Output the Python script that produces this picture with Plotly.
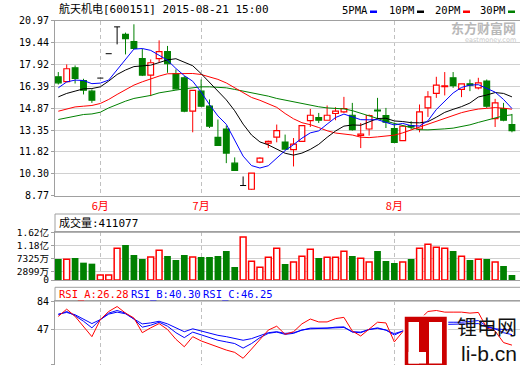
import plotly.graph_objects as go

W, H = 520, 365

# ---------------- data ----------------
month_pos = [5, 17, 40]
month_text = ["6月", "7月", "8月"]
price_ticks = [8.77, 10.30, 11.82, 13.35, 14.87, 16.39, 17.92, 19.44, 20.97]
vol_ticks = [0, 2899, 7325, 11800, 16200]          # unit: 万
vol_tick_text = ["0", "2899万", "7325万", "1.18亿", "1.62亿"]
rsi_ticks = [0, 47, 84]

open_p = [17.06, 16.72, 17.69, 16.80, 16.06, 16.97, 18.67, 20.54, 20.02, 19.51,
          18.32, 17.18, 18.32, 18.81, 17.27, 16.99, 14.66, 16.06, 15.01, 12.84,
          13.42, 11.04, 9.48, 9.22, 11.11, 12.44, 12.86, 12.51, 11.98, 12.56,
          14.01, 14.22, 14.03, 14.50, 14.61, 14.38, 12.98, 13.42, 14.73, 14.36,
          13.45, 12.61, 13.66, 13.42, 14.89, 15.90, 16.38, 16.99, 16.18, 16.57,
          16.29, 16.76, 14.15, 14.85, 13.73]
high_p = [17.39, 17.92, 17.85, 16.92, 16.18, 16.97, 18.67, 20.54, 20.14, 20.72,
          19.02, 18.27, 19.60, 19.21, 17.57, 17.11, 16.11, 16.87, 15.48, 14.08,
          13.66, 11.44, 10.11, 10.34, 11.44, 12.61, 13.73, 13.03, 12.79, 13.66,
          14.82, 14.54, 15.06, 14.94, 15.66, 15.24, 13.84, 14.43, 15.59, 14.89,
          13.84, 13.66, 13.96, 15.13, 16.06, 17.06, 17.39, 17.39, 16.57, 16.87,
          16.99, 16.87, 15.52, 15.24, 14.47]
low_p = [16.52, 16.69, 16.59, 15.83, 15.24, 16.97, 18.67, 19.32, 18.62, 19.02,
         17.11, 15.71, 18.04, 17.34, 16.18, 14.59, 13.19, 14.96, 13.49, 12.26,
         11.04, 10.53, 9.48, 9.18, 11.04, 12.09, 12.49, 11.98, 10.81, 12.56,
         13.56, 13.84, 14.03, 14.03, 14.54, 13.31, 12.09, 12.96, 14.08, 13.49,
         12.44, 12.61, 13.38, 13.19, 14.26, 15.59, 15.76, 16.29, 15.64, 16.06,
         16.18, 14.89, 13.56, 13.96, 13.19]
close_p = [16.64, 17.62, 16.94, 16.13, 15.43, 16.97, 18.67, 20.54, 19.72, 19.04,
           17.18, 18.04, 18.81, 17.97, 16.22, 14.66, 16.11, 15.01, 13.61, 12.28,
           11.74, 10.53, 9.48, 10.34, 11.39, 12.56, 13.31, 12.02, 12.37, 13.66,
           14.38, 14.03, 14.38, 14.66, 14.85, 13.38, 13.07, 14.36, 14.68, 13.89,
           12.49, 13.61, 13.56, 14.61, 15.66, 16.48, 16.43, 16.45, 16.57, 16.48,
           16.64, 15.01, 15.24, 14.03, 13.31]

ma5 = [16.29, 16.70, 16.83, 16.80, 16.58, 16.62, 16.83, 17.55, 18.27, 18.99,
       19.03, 18.90, 18.56, 18.21, 17.64, 17.14, 16.75, 15.99, 15.12, 14.33,
       13.75, 12.63, 11.53, 10.87, 10.70, 10.86, 11.42, 11.92, 12.33, 12.78,
       13.15, 13.29, 13.76, 14.22, 14.46, 14.26, 14.07, 14.06, 14.07, 13.88,
       13.70, 13.81, 13.65, 13.63, 13.99, 14.78, 15.35, 15.93, 16.32, 16.48,
       16.51, 16.23, 15.99, 15.48, 14.85]
ma10 = [15.66, 15.90, 16.06, 16.22, 16.24, 16.36, 16.76, 17.22, 17.53, 17.77,
        17.82, 17.87, 18.05, 18.24, 18.32, 18.09, 17.83, 17.28, 16.67, 15.99,
        15.45, 14.69, 13.76, 13.00, 12.52, 12.31, 12.03, 11.73, 11.60, 11.74,
        12.00, 12.35, 12.84, 13.28, 13.62, 13.70, 13.68, 13.91, 14.15, 14.17,
        13.98, 13.94, 13.86, 13.85, 13.93, 14.24, 14.58, 14.79, 14.98, 15.23,
        15.65, 15.79, 15.96, 15.90, 15.66]
ma20 = [14.66, 14.82, 14.96, 15.01, 15.06, 15.20, 15.48, 15.83, 16.18, 16.48,
        16.71, 16.92, 17.11, 17.27, 17.29, 17.29, 17.29, 17.22, 17.06, 16.88,
        16.63, 16.28, 15.91, 15.62, 15.42, 15.20, 14.93, 14.50, 14.13, 13.86,
        13.72, 13.52, 13.30, 13.14, 13.07, 13.00, 12.85, 12.82, 12.87, 12.95,
        12.99, 13.15, 13.35, 13.56, 13.78, 13.97, 14.13, 14.35, 14.56, 14.70,
        14.81, 14.86, 14.91, 14.87, 14.80]
ma30 = [14.08, 14.19, 14.31, 14.43, 14.47, 14.59, 14.89, 15.13, 15.36, 15.55,
        15.66, 15.76, 15.94, 16.06, 16.13, 16.22, 16.29, 16.36, 16.36, 16.34,
        16.29, 16.18, 16.06, 15.99, 15.83, 15.71, 15.55, 15.43, 15.30, 15.17,
        15.09, 14.97, 14.89, 14.84, 14.82, 14.70, 14.51, 14.31, 14.14, 13.97,
        13.81, 13.66, 13.49, 13.37, 13.36, 13.42, 13.43, 13.48, 13.57, 13.71,
        13.88, 14.03, 14.22, 14.34, 14.41]

volume_wan = [7140, 7020, 7480, 5890, 5550, 1700, 1700, 10760, 11890, 8500,
              7140, 7820, 10080, 8160, 6800, 8500, 7820, 7820, 7820, 8160,
              9860, 4420, 14610, 6340, 4300, 7700, 10760, 5440, 6120, 8040,
              10420, 7480, 7700, 7700, 9740, 8160, 7360, 6120, 9860, 6460,
              5780, 6120, 7140, 10760, 12120, 11100, 10760, 9860, 8040, 6800,
              7020, 7140, 6120, 4760, 1700]

rsi_a = [64.7, 74.4, 64.7, 51.6, 37.6, 60.4, 71.3, 77.9, 69.1, 62.6,
         42.9, 49.4, 55.1, 47.2, 34.1, 24.1, 37.6, 31.9, 27.6, 23.2,
         19.7, 16.6, 8.7, 21.0, 34.1, 46.4, 51.6, 40.7, 44.2, 54.7,
         61.2, 57.3, 57.3, 61.7, 63.4, 45.1, 38.5, 47.2, 56.9, 56.0,
         30.6, 44.2, 51.6, 60.4, 71.3, 72.6, 70.4, 70.4, 70.4, 69.1,
         70.0, 49.4, 45.1, 29.7, 26.28]
rsi_b = [66.9, 71.3, 65.6, 58.2, 49.4, 60.4, 69.1, 72.6, 69.1, 61.2,
         50.3, 52.9, 56.9, 51.6, 42.9, 36.3, 43.7, 39.8, 36.3, 32.8,
         30.6, 28.4, 22.3, 28.4, 36.3, 42.0, 43.7, 40.7, 42.0, 46.4,
         49.0, 49.0, 49.0, 50.3, 50.7, 43.7, 42.9, 47.2, 49.4, 46.4,
         39.8, 45.1, 49.4, 53.8, 57.3, 56.9, 57.3, 56.9, 56.9, 58.2,
         59.1, 51.6, 48.1, 42.9, 40.30]
rsi_c = [67.8, 70.0, 66.9, 61.2, 55.1, 60.4, 67.8, 70.4, 68.2, 61.2,
         54.7, 56.0, 58.2, 54.7, 49.4, 44.2, 48.1, 45.1, 42.9, 39.4,
         37.6, 35.0, 32.8, 35.0, 38.5, 42.9, 44.2, 42.0, 42.9, 46.4,
         48.1, 48.6, 48.6, 49.4, 49.9, 44.2, 43.7, 47.2, 48.6, 46.4,
         41.6, 45.1, 48.1, 51.6, 53.8, 53.8, 53.8, 53.8, 53.8, 54.7,
         55.1, 50.3, 48.1, 47.2, 46.25]

title_text = "航天机电[600151] 2015-08-21 15:00"
vol_header = "成交量:411077"
rsi_labels = ["RSI_A:26.28", "RSI_B:40.30", "RSI_C:46.25"]
ma_names = ["5PMA", "10PM", "20PM", "30PM"]

# ---------------- styling ----------------
RED, GREEN, BLUE, BLACK = "#ff0000", "#008000", "#0000ff", "#000000"
FRAME = "#a0a0a0"
GRID = "#d0d0d0"
FONT = "DejaVu Sans Mono, Noto Sans CJK SC"


def px(x):
    return x / W


def py(y):
    return 1 - y / H


n = len(close_p)
xs = list(range(n))
up_idx = [i for i in xs if close_p[i] > open_p[i]]
dn_idx = [i for i in xs if close_p[i] < open_p[i]]
dj_idx = [i for i in xs if close_p[i] == open_p[i]]

fig = go.Figure()


def body(idx, fill, line):
    return go.Bar(
        x=[xs[i] for i in idx],
        base=[min(open_p[i], close_p[i]) for i in idx],
        y=[abs(close_p[i] - open_p[i]) for i in idx],
        width=0.68,
        marker=dict(color=fill, line=dict(color=line, width=1.2)),
        xaxis="x", yaxis="y", hoverinfo="skip",
    )


def wicks(idx, flat=False):
    wx, wy = [], []
    for i in idx:
        top = max(open_p[i], close_p[i])
        bot = min(open_p[i], close_p[i])
        if high_p[i] > top:
            wx += [xs[i], xs[i], None]
            wy += [top, high_p[i], None]
        if low_p[i] < bot:
            wx += [xs[i], xs[i], None]
            wy += [bot, low_p[i], None]
        if flat:
            wx += [xs[i] - 0.36, xs[i] + 0.36, None]
            wy += [open_p[i], open_p[i], None]
    return wx, wy


fig.add_trace(body(up_idx, "#ffffff", RED))
fig.add_trace(body(dn_idx, GREEN, GREEN))
for idx, col, flat in [(up_idx, RED, False), (dn_idx, GREEN, False), (dj_idx, BLACK, True)]:
    wx, wy = wicks(idx, flat)
    fig.add_trace(go.Scatter(x=wx, y=wy, mode="lines", line=dict(color=col, width=1),
                             xaxis="x", yaxis="y", hoverinfo="skip"))

for ser, col in [(ma30, GREEN), (ma20, RED), (ma10, BLACK), (ma5, BLUE)]:
    fig.add_trace(go.Scatter(x=xs, y=ser, mode="lines", line=dict(color=col, width=1),
                             xaxis="x", yaxis="y", hoverinfo="skip"))

# volume
v_up = [i for i in xs if close_p[i] >= open_p[i]]
v_dn = [i for i in xs if close_p[i] < open_p[i]]
fig.add_trace(go.Bar(x=[xs[i] for i in v_up], y=[volume_wan[i] for i in v_up], width=0.7,
                     marker=dict(color="#ffffff", line=dict(color=RED, width=1.5)),
                     xaxis="x2", yaxis="y2", hoverinfo="skip"))
fig.add_trace(go.Bar(x=[xs[i] for i in v_dn], y=[volume_wan[i] for i in v_dn], width=0.8,
                     marker=dict(color=GREEN, line=dict(color=GREEN, width=0)),
                     xaxis="x2", yaxis="y2", hoverinfo="skip"))

# RSI
for ser, col in [(rsi_c, BLUE), (rsi_b, BLUE), (rsi_a, RED)]:
    fig.add_trace(go.Scatter(x=xs, y=ser, mode="lines", line=dict(color=col, width=1),
                             xaxis="x3", yaxis="y3", hoverinfo="skip"))

x_dom = [px(55), 1.0]
x_rng = [-0.393, 54.96]

common_x = dict(domain=x_dom, range=x_rng, showline=True, linecolor=FRAME, linewidth=1,
                mirror=True, tickvals=month_pos, ticktext=month_text, showgrid=True,
                gridcolor="#c0c0c0", griddash="4px,3px", gridwidth=1, zeroline=False,
                ticks="", fixedrange=True)
common_y = dict(showline=True, linecolor=FRAME, linewidth=1, mirror=True, ticks="outside",
                ticklen=3, tickcolor=FRAME, showgrid=True, gridcolor=GRID, gridwidth=1,
                zeroline=False, tickfont=dict(family=FONT, size=10, color=BLACK),
                fixedrange=True)

fig.update_layout(
    width=W, height=H, margin=dict(l=0, r=0, t=0, b=0, autoexpand=False),
    paper_bgcolor="#ffffff", plot_bgcolor="#ffffff",
    showlegend=False, barmode="overlay", hovermode=False,
    xaxis=dict(**common_x, anchor="y", showticklabels=True,
               tickfont=dict(family="Noto Sans CJK SC", size=11, color=RED)),
    xaxis2=dict(**common_x, anchor="y2", showticklabels=False),
    xaxis3=dict(**common_x, anchor="y3", showticklabels=False),
    yaxis=dict(**common_y, domain=[py(195.7), py(20.7)], range=[8.77, 20.97],
               tickvals=price_ticks, ticktext=[f"{v:.2f}" for v in price_ticks], anchor="x"),
    yaxis2=dict(**{**common_y, "tickfont": dict(family=FONT, size=9.5, color=BLACK)},
                domain=[py(280), py(232.3)], range=[0, 16200],
                tickvals=vol_ticks, ticktext=vol_tick_text, anchor="x2"),
    yaxis3=dict(**common_y, domain=[0, py(300.7)], range=[-0.3, 85.7],
                tickvals=rsi_ticks, ticktext=[str(v) for v in rsi_ticks], anchor="x3"),
)

shapes = []
annos = []

# header boxes of volume & RSI panels
for top, bot in [(214, 232.3), (287.3, 300.7)]:
    shapes.append(dict(type="rect", xref="paper", yref="paper", x0=px(55), x1=1.002,
                       y0=py(bot), y1=py(top), line=dict(color=FRAME, width=1)))

# title
annos.append(dict(x=px(57), y=py(9), xref="paper", yref="paper", xanchor="left", yanchor="middle",
                  text=title_text, showarrow=False, font=dict(family=FONT, size=11, color=BLACK)))

# MA legend
leg_x = [340, 387, 433, 478]
leg_c = [BLUE, BLACK, RED, GREEN]
for name, lx, col in zip(ma_names, leg_x, leg_c):
    annos.append(dict(x=px(lx), y=py(10), xref="paper", yref="paper", xanchor="left",
                      yanchor="middle", text=name, showarrow=False,
                      font=dict(family=FONT, size=10.5, color=BLACK)))
    shapes.append(dict(type="rect", xref="paper", yref="paper", x0=px(lx + 30), x1=px(lx + 37),
                       y0=py(13), y1=py(10.5), fillcolor=col, line=dict(width=0)))

# panel headers
annos.append(dict(x=px(57), y=py(223), xref="paper", yref="paper", xanchor="left", yanchor="middle",
                  text=vol_header, showarrow=False, font=dict(family=FONT, size=11, color=BLACK)))
for lab, lx, col in zip(rsi_labels, [57, 129, 201], [RED, BLUE, BLUE]):
    annos.append(dict(x=px(lx), y=py(294), xref="paper", yref="paper", xanchor="left",
                      yanchor="middle", text=lab, showarrow=False,
                      font=dict(family=FONT, size=10.5, color=col)))

# watermark eastmoney
annos.append(dict(x=px(518), y=py(27), xref="paper", yref="paper", xanchor="right", yanchor="middle",
                  text="<b>东方财富网</b>", showarrow=False,
                  font=dict(family="Noto Sans CJK SC", size=13, color="#b8b8b8")))
annos.append(dict(x=px(518), y=py(40), xref="paper", yref="paper", xanchor="right", yanchor="middle",
                  text="eastmoney.com", showarrow=False,
                  font=dict(family="DejaVu Sans", size=6.5, color="#c8c8c8")))

# Li logo watermark
shapes.append(dict(type="rect", xref="paper", yref="paper", x0=px(404), x1=px(447.5),
                   y0=py(366), y1=py(316), fillcolor="#cc0000", line=dict(color="#ffffff", width=1.5),
                   layer="above"))
for x0, x1, y0, y1 in [(408.5, 419, 322, 363.5), (408.5, 426, 352, 363.5), (429, 442, 322, 363.5)]:
    shapes.append(dict(type="rect", xref="paper", yref="paper", x0=px(x0), x1=px(x1),
                       y0=py(y1), y1=py(y0), fillcolor="#ffffff", line=dict(width=0), layer="above"))
annos.append(dict(x=px(519), y=py(326), xref="paper", yref="paper", xanchor="right", yanchor="middle",
                  text="锂电网", showarrow=False,
                  font=dict(family="Noto Sans CJK SC", size=20, color="#111111")))
annos.append(dict(x=px(519), y=py(353), xref="paper", yref="paper", xanchor="right", yanchor="middle",
                  text="li-b.cn", showarrow=False,
                  font=dict(family="Liberation Sans", size=21, color="#111111")))

fig.update_layout(shapes=shapes, annotations=annos)
fig.write_html("out.html", config={"displayModeBar": False, "staticPlot": True},
               post_script="document.body.style.margin='0px';document.body.style.overflow='hidden';")
